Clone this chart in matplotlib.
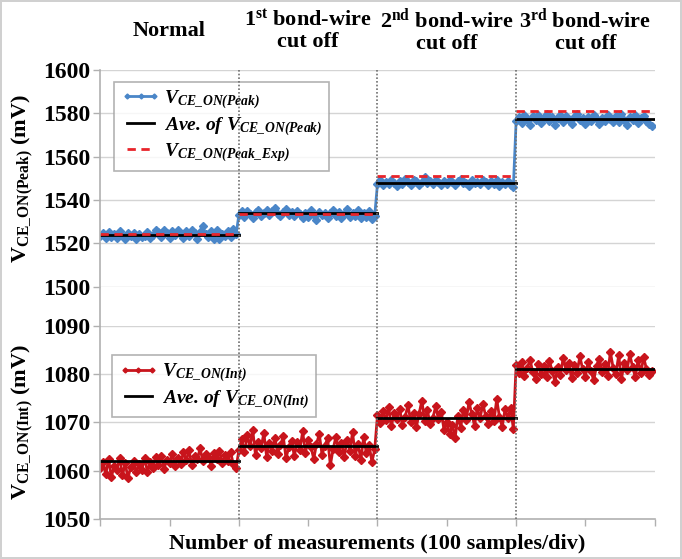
import numpy as np
import matplotlib
matplotlib.use("Agg")
import matplotlib.pyplot as plt
from matplotlib.lines import Line2D
from matplotlib.transforms import blended_transform_factory

plt.rcParams['font.family'] = 'Liberation Serif'
plt.rcParams['mathtext.fontset'] = 'custom'
plt.rcParams['mathtext.rm'] = 'Liberation Serif:bold'
plt.rcParams['mathtext.bf'] = 'Liberation Serif:bold'
plt.rcParams['mathtext.it'] = 'Liberation Serif:italic:bold'
plt.rcParams['mathtext.bfit'] = 'Liberation Serif:italic:bold'

# ---- data (50 samples shown per 100-sample division) ----
headers = ['Normal', r'1$^{\mathbf{st}}$ bond-wire' + '\ncut off',
           r'2$^{\mathbf{nd}}$ bond-wire' + '\ncut off',
           r'3$^{\mathbf{rd}}$ bond-wire' + '\ncut off']

peak_normal = [1523.5, 1524.8, 1522.6, 1525.2, 1523.0, 1524.1, 1522.3, 1525.6, 1523.8, 1522.1,
               1524.6, 1523.2, 1525.0, 1521.9, 1524.3, 1522.8, 1523.6, 1525.3, 1522.5, 1524.0,
               1526.1, 1525.4, 1523.1, 1526.3, 1524.7, 1522.4, 1525.8, 1523.9, 1526.0, 1524.2,
               1522.7, 1525.5, 1523.3, 1526.4, 1524.9, 1522.0, 1525.1, 1527.8, 1524.4, 1523.0,
               1525.7, 1522.2, 1526.2, 1521.8, 1524.5, 1523.4, 1525.9, 1522.9, 1526.5, 1524.1]
peak_cut1 = [1533.2, 1534.8, 1532.1, 1535.0, 1533.6, 1531.9, 1534.4, 1535.6, 1532.8, 1534.1,
             1535.3, 1533.0, 1534.9, 1536.2, 1533.5, 1532.4, 1534.7, 1535.8, 1533.1, 1534.3,
             1532.6, 1535.1, 1533.7, 1531.5, 1534.0, 1532.2, 1535.4, 1533.3, 1530.6, 1534.6,
             1532.9, 1534.2, 1531.8, 1533.9, 1535.2, 1532.5, 1534.5, 1531.6, 1533.4, 1535.7,
             1532.0, 1534.1, 1532.7, 1535.3, 1531.7, 1533.8, 1532.3, 1534.8, 1531.2, 1532.8]
peak_cut2 = [1547.6, 1549.0, 1546.8, 1548.5, 1547.2, 1549.4, 1548.0, 1546.5, 1548.8, 1547.4,
             1549.6, 1548.2, 1547.0, 1549.2, 1548.6, 1546.9, 1548.3, 1550.8, 1547.8, 1548.9,
             1547.3, 1549.1, 1548.4, 1546.7, 1548.7, 1547.5, 1549.3, 1548.1, 1547.1, 1548.6,
             1549.5, 1547.7, 1548.0, 1546.6, 1549.0, 1547.9, 1548.5, 1547.2, 1549.2, 1548.3,
             1546.8, 1548.7, 1547.6, 1549.1, 1546.4, 1548.2, 1547.4, 1548.9, 1547.0, 1545.8]
peak_cut3 = [1576.2, 1578.4, 1575.6, 1579.0, 1577.3, 1574.8, 1578.6, 1576.9, 1579.2, 1575.4,
             1577.8, 1579.5, 1576.5, 1578.1, 1574.6, 1577.6, 1579.3, 1576.0, 1578.8, 1577.1,
             1575.2, 1578.3, 1579.6, 1576.7, 1577.9, 1575.0, 1578.5, 1576.3, 1579.1, 1577.4,
             1574.9, 1578.0, 1576.6, 1579.4, 1577.2, 1575.8, 1578.7, 1576.1, 1579.7, 1577.0,
             1574.7, 1578.2, 1576.8, 1579.0, 1575.5, 1577.7, 1578.9, 1576.4, 1575.1, 1574.2]
peak_ave = [1524.0, 1534.0, 1548.0, 1577.5]
peak_exp = [1524.2, 1533.5, 1551.0, 1581.0]

int_normal = [1060.5, 1061.8, 1059.2, 1062.4, 1058.6, 1061.0, 1060.1, 1062.7, 1059.0, 1061.5,
              1058.4, 1060.8, 1062.0, 1059.6, 1061.3, 1060.2, 1062.5, 1059.8, 1061.7, 1060.6,
              1062.9, 1061.1, 1063.0, 1060.4, 1062.2, 1061.6, 1063.4, 1060.9, 1062.6, 1061.4,
              1063.8, 1062.1, 1064.2, 1061.2, 1063.1, 1062.3, 1064.6, 1061.9, 1063.5, 1062.8,
              1061.0, 1063.7, 1062.4, 1064.0, 1061.5, 1063.2, 1062.0, 1063.9, 1061.3, 1060.6]
int_cut1 = [1064.2, 1066.5, 1063.8, 1067.3, 1065.0, 1068.4, 1063.2, 1066.0, 1064.6, 1067.8,
            1062.9, 1065.7, 1064.0, 1066.8, 1063.5, 1065.3, 1067.1, 1062.6, 1064.8, 1066.2,
            1063.0, 1065.9, 1064.3, 1068.1, 1063.7, 1066.4, 1064.9, 1062.4, 1065.5, 1067.6,
            1063.3, 1065.1, 1066.7, 1061.1, 1064.5, 1067.0, 1063.9, 1065.8, 1062.8, 1066.3,
            1064.1, 1067.9, 1063.1, 1065.6, 1062.2, 1066.9, 1063.6, 1065.2, 1061.8, 1064.4]
int_cut2 = [1071.5, 1069.8, 1072.3, 1070.4, 1073.1, 1069.2, 1071.9, 1070.7, 1072.8, 1069.5,
            1071.2, 1073.6, 1070.1, 1072.0, 1069.0, 1071.7, 1074.5, 1070.3, 1072.5, 1069.6,
            1071.0, 1073.3, 1070.6, 1072.2, 1068.4, 1070.0, 1067.6, 1069.4, 1066.8, 1071.3,
            1068.9, 1072.6, 1070.5, 1074.2, 1071.8, 1069.3, 1072.9, 1070.8, 1073.8, 1071.4,
            1069.7, 1072.4, 1070.2, 1074.8, 1071.1, 1069.1, 1072.7, 1070.9, 1073.0, 1068.7]
int_cut3 = [1081.8, 1080.2, 1082.5, 1079.6, 1081.2, 1083.0, 1080.5, 1078.9, 1082.1, 1080.0,
            1081.6, 1079.3, 1082.8, 1080.7, 1078.4, 1081.4, 1079.9, 1083.4, 1080.9, 1082.3,
            1079.1, 1081.9, 1080.3, 1083.7, 1081.0, 1079.5, 1082.6, 1080.6, 1078.7, 1081.7,
            1083.2, 1080.4, 1082.0, 1079.7, 1084.6, 1081.3, 1080.1, 1083.9, 1079.0, 1082.4,
            1080.8, 1084.1, 1081.5, 1079.4, 1082.9, 1080.3, 1083.5, 1081.1, 1079.8, 1080.6]
int_ave = [1062.0, 1065.0, 1071.0, 1081.0]

seg_len = 100
n_per_seg = len(peak_normal)
peak = np.concatenate([peak_normal, peak_cut1, peak_cut2, peak_cut3])
vint = np.concatenate([int_normal, int_cut1, int_cut2, int_cut3])
x = np.arange(len(peak)) * seg_len / n_per_seg

blue = '#4a86c8'
red = '#c8141c'
grid_c = '#d4d4d4'
axis_c = '#b0b0b0'

fig = plt.figure(figsize=(6.82, 5.59), dpi=100)
fig.patch.set_edgecolor('#d0d0d0')
fig.patch.set_linewidth(1.5)

L, R = 0.147, 0.960
ax1 = fig.add_axes([L, 0.487, R - L, 0.388])
ax2 = fig.add_axes([L, 0.072, R - L, 0.345])

for ax in (ax1, ax2):
    for s in ax.spines.values():
        s.set_visible(False)
    ax.set_xlim(0, 400)
    ax.tick_params(axis='y', colors=axis_c, labelcolor='black', labelsize=17,
                   length=5, width=1, direction='out', pad=2)
    for lab in ax.get_yticklabels():
        lab.set_fontweight('bold')

leg_prop = {'size': 14, 'weight': 'bold', 'style': 'italic'}

# top panel
ax1.set_ylim(1500, 1600)
ax1.set_yticks(range(1500, 1601, 20))
for v in range(1500, 1601, 20):
    ax1.axhline(v, color=grid_c, lw=1, zorder=0)
ax1.set_xticks([])
ax1.plot(x, peak, color=blue, lw=2, marker='D', ms=4.2, mec=blue, mfc=blue,
         label=r'$\mathbfit{V_{CE\_ON(Peak)}}$', zorder=3)
for i in range(4):
    xs = [i * seg_len, (i + 1) * seg_len]
    ax1.plot(xs, [peak_ave[i]] * 2, color='black', lw=2, zorder=4,
             label=r'Ave. of $\mathbfit{V_{CE\_ON(Peak)}}$' if i == 0 else None)
    ax1.plot(xs, [peak_exp[i]] * 2, color='#e8242a', lw=2, ls=(0, (3, 2)), zorder=5,
             label=r'$\mathbfit{V_{CE\_ON(Peak\_Exp)}}$' if i == 0 else None)
leg1 = ax1.legend(loc='upper left', bbox_to_anchor=(0.008, 0.99), prop=leg_prop,
                  frameon=True, fancybox=False, handlelength=2.0, handletextpad=0.2,
                  borderpad=0.35, labelspacing=0.2, numpoints=3, markerscale=0.6)
leg1.get_frame().set_edgecolor('#a0a0a0')
leg1.get_frame().set_linewidth(1.2)
ax1.set_ylabel(r'$\mathbf{V_{CE\_ON(Peak)}}$ (mV)', fontsize=16, fontweight='bold')

# bottom panel
ax2.set_ylim(1050, 1090)
ax2.set_yticks(range(1050, 1091, 10))
for v in range(1060, 1091, 10):
    ax2.axhline(v, color=grid_c, lw=1, zorder=0)
ax2.spines['bottom'].set_visible(True)
ax2.spines['bottom'].set_color(axis_c)
ax2.spines['bottom'].set_linewidth(1.2)
ax2.set_xticks(range(0, 401, 50))
ax2.tick_params(axis='x', colors=axis_c, labelbottom=False, length=5, width=1, direction='out')
ax2.plot(x, vint, color=red, lw=2, marker='D', ms=4.2, mec=red, mfc=red,
         label=r'$\mathbfit{V_{CE\_ON(Int)}}$', zorder=3)
for i in range(4):
    xs = [i * seg_len, (i + 1) * seg_len]
    ax2.plot(xs, [int_ave[i]] * 2, color='black', lw=2, zorder=4,
             label=r'Ave. of $\mathbfit{V_{CE\_ON(Int)}}$' if i == 0 else None)
leg2 = ax2.legend(loc='upper left', bbox_to_anchor=(0.004, 0.90), prop=leg_prop,
                  frameon=True, fancybox=False, handlelength=2.0, handletextpad=0.2,
                  borderpad=0.35, labelspacing=0.2, numpoints=3, markerscale=0.6)
leg2.get_frame().set_edgecolor('#a0a0a0')
leg2.get_frame().set_linewidth(1.2)
ax2.set_ylabel(r'$\mathbf{V_{CE\_ON(Int)}}$ (mV)', fontsize=16, fontweight='bold')
ax2.set_xlabel('Number of measurements (100 samples/div)', fontsize=16,
               fontweight='bold', labelpad=6)

# align y labels
ax1.yaxis.set_label_coords(-0.118, 0.5)
ax2.yaxis.set_label_coords(-0.118, 0.5)

# continuous left axis line and dotted division lines
fig.add_artist(Line2D([L, L], [0.072, 0.875], color=axis_c, lw=1.2, transform=fig.transFigure))
tr = blended_transform_factory(ax2.transData, fig.transFigure)
for xv in (100, 200, 300):
    fig.add_artist(Line2D([xv, xv], [0.072, 0.875], color='#707070', lw=1.2,
                          ls=(0, (1, 1.2)), transform=tr, zorder=2))

# headers over each division
for i, h in enumerate(headers):
    fig.text(i * seg_len + seg_len / 2, 0.945, h, transform=tr, ha='center', va='center',
             fontsize=16, fontweight='bold', linespacing=1.1)

fig.savefig('out.png', dpi=100)
